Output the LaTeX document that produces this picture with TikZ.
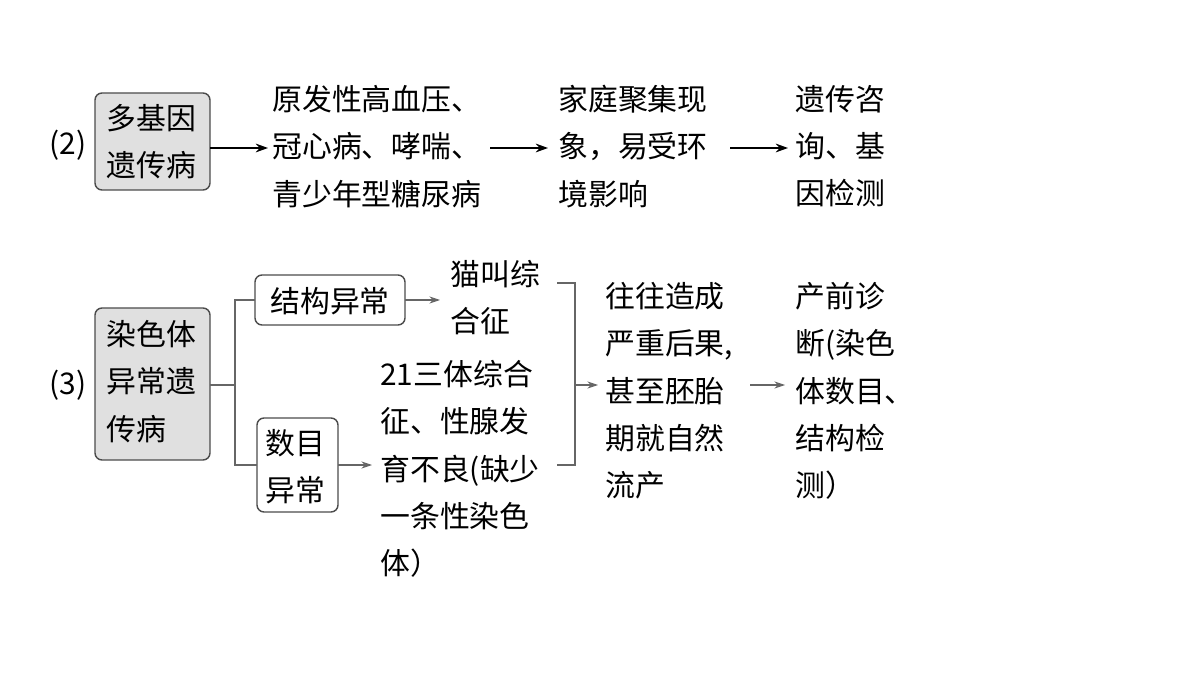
\documentclass[tikz,border=0pt]{standalone}
\usepackage{fontspec}
\setmainfont{Noto Sans CJK SC}
\usetikzlibrary{arrows.meta}
\begin{document}
\begin{tikzpicture}[x=0.02cm,y=-0.02cm,
  txt/.style={anchor=north west,align=left,inner sep=0pt,font=\fontsize{17pt}{26.9pt}\selectfont},
  lab/.style={inner sep=0pt,font=\fontsize{17pt}{26.9pt}\selectfont},
  box/.style={draw=black!70,line width=0.8pt,rounded corners=4pt,fill=black!12},
  wbox/.style={draw=black!70,line width=0.8pt,rounded corners=4pt,fill=white},
  bar/.style={-{Stealth[length=7pt,width=5pt]},line width=0.9pt},
  gar/.style={-{Stealth[length=6pt,width=4pt]},line width=0.6pt,draw=black!60},
  gl/.style={line width=0.6pt,draw=black!60}]
\useasboundingbox (0,0) rectangle (1200,675);
% row (2)
\node[lab] (p2) at (68,145) {(2)};
\draw[box] (95,93) rectangle (210,190);
\node[txt] (b2) at (106,104) {多基因\\遗传病};
\coordinate (b2r) at (210,148);
\node[txt] (t1) at (272,85) {原发性高血压、\\冠心病、哮喘、\\青少年型糖尿病};
\node[txt] (t2) at (558,85) {家庭聚集现\\象，易受环\\境影响};
\node[txt] (t3) at (795,85) {遗传咨\\询、基\\因检测};
\coordinate (a1) at (268,148);
\coordinate (a2s) at (490,148); \coordinate (a2e) at (548,148);
\coordinate (a3s) at (730,148); \coordinate (a3e) at (788,148);
\draw[bar] (b2r) -- (a1);
\draw[bar] (a2s) -- (a2e);
\draw[bar] (a3s) -- (a3e);
% row (3)
\node[lab] (p3) at (68,385) {(3)};
\draw[box] (95,308) rectangle (210,460);
\node[txt] (b3) at (106,320) {染色体\\异常遗\\传病};
\draw[wbox] (255,275) rectangle (405,325);
\node[lab] (s1) at (330,301) {结构异常};
\draw[wbox] (257,418) rectangle (338,512);
\node[txt] (s2) at (265,429) {数目\\异常};
\coordinate (j) at (235,385);
\draw[gl] (210,385) -- (j);
\draw[gl] (255,300) -| (j) |- (257,465);
\node[txt] (m1) at (450,260) {猫叫综\\合征};
\draw[gar] (405,300) -- (440,300);
\node[txt] (m2) at (380,360) {21三体综合\\征、性腺发\\育不良(缺少\\一条性染色\\体）};
\draw[gar] (338,465) -- (372,465);
\draw[gl] (557,283) -- (575,283) -- (575,465) -- (557,465);
\coordinate (bk) at (575,385);
\draw[gar] (bk) -- (598,385);
\node[txt] (r1) at (605,282) {往往造成\\严重后果,\\甚至胚胎\\期就自然\\流产};
\draw[gar] (750,385) -- (785,385);
\node[txt] (r2) at (795,282) {产前诊\\断(染色\\体数目、\\结构检\\测）};
\end{tikzpicture}
\end{document}
